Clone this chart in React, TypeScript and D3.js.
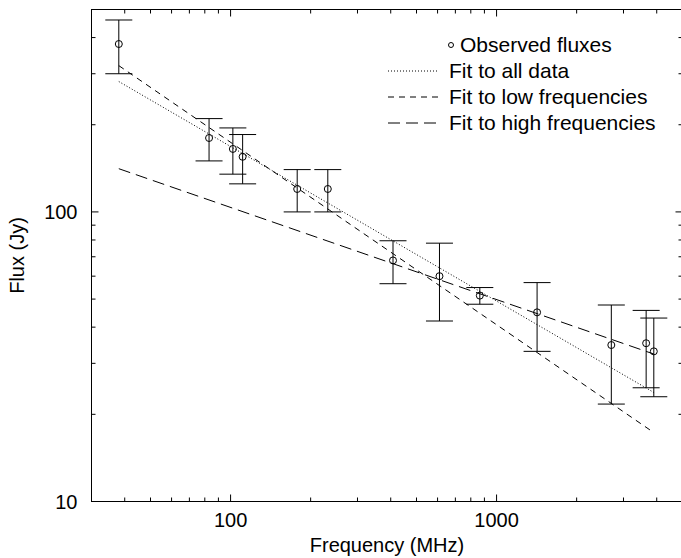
import * as d3 from 'd3'
import React, { useEffect, useRef } from 'react'

// Observed fluxes (MHz, Jy, 1-sigma error in Jy)
const freqs = [38, 83, 102, 111, 178, 232, 408, 610, 865, 1420, 2700, 3650, 3900]
const fluxes = [380, 180, 165, 155, 120, 120, 68, 60, 51.4, 45, 34.7, 35.2, 33]
const errors = [80, 30, 30, 30, 20, 20, 11.5, 18, 3.4, 12, 13, 10.5, 10]

// Power-law fits, read at both ends of the frequency range
const fitNames = ['Fit to all data', 'Fit to low frequencies', 'Fit to high frequencies']
const fitFreqs = [38, 3900]
const fitStart = [282, 320, 141]
const fitEnd = [23.8, 17.3, 32.3]

const xDomain = [30, 5000]
const yDomain = [10, 500]
const yTickLabels = ['10', '100']
const xTickLabels = ['100', '1000']

const FONT = '"Liberation Sans", Arial, Helvetica, sans-serif'
const fitDashes = ['1,2', '6,5', '12,6']

const App = () => {
  const svgRef = useRef<SVGSVGElement>(null)

  useEffect(() => {
    if (!svgRef.current) return
    const svg = d3.select(svgRef.current)
    svg.selectAll('*').remove()

    const x = d3.scaleLog().domain(xDomain).range([91.5, 682.5])
    const y = d3.scaleLog().domain(yDomain).range([501.5, 9.5])
    const [x0, x1] = x.range()
    const [y0, y1] = y.range()

    const isMajor = (d: number) => Math.abs(Math.log10(d) - Math.round(Math.log10(d))) < 1e-6

    // frame
    svg.append('rect')
      .attr('x', x0).attr('y', y1)
      .attr('width', x1 - x0).attr('height', y0 - y1)
      .attr('fill', 'none').attr('stroke', '#000')

    // ticks, drawn inward on all four sides
    const ticks = svg.append('g').attr('stroke', '#000')
    x.ticks().filter((t) => t > xDomain[0] && t < xDomain[1]).forEach((t) => {
      const len = isMajor(t) ? 7 : 4
      ticks.append('line').attr('x1', x(t)).attr('x2', x(t)).attr('y1', y0).attr('y2', y0 - len)
      ticks.append('line').attr('x1', x(t)).attr('x2', x(t)).attr('y1', y1).attr('y2', y1 + len)
    })
    y.ticks().filter((t) => t > yDomain[0] && t < yDomain[1]).forEach((t) => {
      const len = isMajor(t) ? 7 : 4
      ticks.append('line').attr('y1', y(t)).attr('y2', y(t)).attr('x1', x0).attr('x2', x0 + len)
      ticks.append('line').attr('y1', y(t)).attr('y2', y(t)).attr('x1', x1).attr('x2', x1 - len)
    })

    // tick labels
    const labels = svg.append('g').attr('font-family', FONT).attr('font-size', 20).attr('fill', '#000')
    yTickLabels.forEach((l) => {
      labels.append('text')
        .attr('x', x0 - 14).attr('y', y(+l)).attr('dy', '0.35em')
        .attr('text-anchor', 'end').text(l)
    })
    xTickLabels.forEach((l) => {
      labels.append('text')
        .attr('x', x(+l)).attr('y', 527)
        .attr('text-anchor', 'middle').text(l)
    })

    // axis titles
    labels.append('text')
      .attr('x', (x0 + x1) / 2).attr('y', 552)
      .attr('text-anchor', 'middle').text('Frequency (MHz)')
    labels.append('text')
      .attr('transform', `translate(24, ${(y0 + y1) / 2}) rotate(-90)`)
      .attr('text-anchor', 'middle').text('Flux (Jy)')

    // fit lines
    const line = d3.line<[number, number]>().x((d) => x(d[0])).y((d) => y(d[1]))
    fitNames.forEach((name, i) => {
      svg.append('path')
        .attr('d', line([[fitFreqs[0], fitStart[i]], [fitFreqs[1], fitEnd[i]]]))
        .attr('fill', 'none').attr('stroke', '#000').attr('stroke-width', 1)
        .attr('stroke-dasharray', fitDashes[i])
    })

    // error bars
    const bars = svg.append('g').attr('stroke', '#000').attr('stroke-width', 1)
    freqs.forEach((f, i) => {
      const cx = x(f)
      const top = y(fluxes[i] + errors[i])
      const bot = y(fluxes[i] - errors[i])
      bars.append('line').attr('x1', cx).attr('x2', cx).attr('y1', top).attr('y2', bot)
      bars.append('line').attr('x1', cx - 13.5).attr('x2', cx + 13.5).attr('y1', top).attr('y2', top)
      bars.append('line').attr('x1', cx - 13.5).attr('x2', cx + 13.5).attr('y1', bot).attr('y2', bot)
    })

    // observed points
    svg.append('g').selectAll('circle')
      .data(freqs)
      .enter()
      .append('circle')
      .attr('cx', (d) => x(d))
      .attr('cy', (d, i) => y(fluxes[i]))
      .attr('r', 3.5)
      .attr('fill', 'none')
      .attr('stroke', '#000')

    // legend
    const legend = svg.append('g').attr('font-family', FONT).attr('font-size', 21)
    const rowY = (i: number) => 45 + i * 26
    legend.append('circle')
      .attr('cx', 451).attr('cy', rowY(0)).attr('r', 2.5)
      .attr('fill', 'none').attr('stroke', '#000')
    legend.append('text').attr('x', 460).attr('y', rowY(0)).attr('dy', '0.35em').text('Observed fluxes')
    fitNames.forEach((name, i) => {
      legend.append('line')
        .attr('x1', 388).attr('x2', 438)
        .attr('y1', rowY(i + 1)).attr('y2', rowY(i + 1))
        .attr('stroke', '#000').attr('stroke-dasharray', fitDashes[i])
      legend.append('text').attr('x', 449).attr('y', rowY(i + 1)).attr('dy', '0.35em').text(name)
    })
  }, [])

  return (
    <svg
      ref={svgRef}
      width={681}
      height={558}
      style={{ position: 'absolute', left: 0, top: 0, background: '#fff' }}
    />
  )
}

export default App
